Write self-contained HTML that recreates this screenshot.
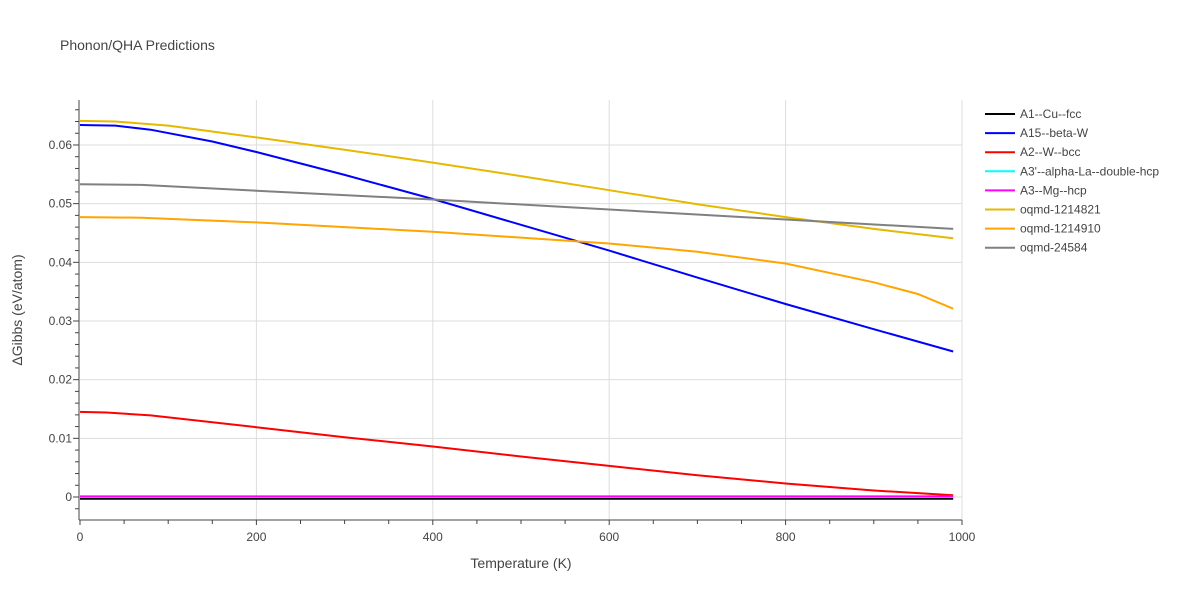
<!DOCTYPE html>
<html><head><meta charset="utf-8"><style>
body{margin:0;background:#fff;font-family:"Liberation Sans",sans-serif}
svg text{font-family:"Liberation Sans",sans-serif;fill:#444}
</style></head><body>
<svg id="chart" width="1200" height="600" xmlns="http://www.w3.org/2000/svg">
<text x="60" y="50" font-size="14" style="fill:#444">Phonon/QHA Predictions</text>
<g id="grid"></g><g id="axes"></g><g id="series"></g><g id="legend"></g>
<text x="521" y="568" font-size="14" text-anchor="middle">Temperature (K)</text>
<text transform="translate(22,310) rotate(-90)" font-size="14" text-anchor="middle">ΔGibbs (eV/atom)</text>
</svg>
<script>
const xTicks=[0,200,400,600,800,1000];
const yTicks=[0,0.01,0.02,0.03,0.04,0.05,0.06];
const yTickLabels=["0","0.01","0.02","0.03","0.04","0.05","0.06"];
const names=["A1--Cu--fcc","A15--beta-W","A2--W--bcc","A3'--alpha-La--double-hcp","A3--Mg--hcp","oqmd-1214821","oqmd-1214910","oqmd-24584"];
const colors=["#000000","#0000ff","#ff0000","#00ffff","#ff00ff","#e6b800","#ffa500","#808080"];
const tA1=[0,990], vA1=[-0.0003,-0.0003];
const tA15=[0,40,80,150,200,300,400,500,600,700,800,900,990];
const vA15=[0.0634,0.0633,0.0626,0.0606,0.0588,0.0549,0.0508,0.0464,0.0420,0.0374,0.0329,0.0286,0.0248];
const tA2=[0,30,80,200,300,400,500,600,700,800,900,990];
const vA2=[0.0145,0.0144,0.0139,0.0119,0.0102,0.0086,0.0069,0.0053,0.0037,0.0023,0.0011,0.0003];
const tA3p=[0,990], vA3p=[0,0];
const tA3=[0,990], vA3=[0.0001,0.0001];
const t821=[0,40,100,200,300,400,500,600,700,800,900,990];
const v821=[0.0641,0.0640,0.0633,0.0613,0.0592,0.0570,0.0547,0.0523,0.0499,0.0477,0.0457,0.0441];
const t910=[0,70,200,400,600,700,800,900,950,990];
const v910=[0.0477,0.0476,0.0468,0.0452,0.0432,0.0418,0.0398,0.0366,0.0346,0.0321];
const t584=[0,70,200,400,600,800,990];
const v584=[0.0533,0.0532,0.0522,0.0507,0.0490,0.0473,0.0457];
const seriesT=[tA1,tA15,tA2,tA3p,tA3,t821,t910,t584];
const seriesV=[vA1,vA15,vA2,vA3p,vA3,v821,v910,v584];
const NS="http://www.w3.org/2000/svg";
const X=t=>80+t*0.882, Y=v=>497-v*5867;
function mk(p,tag,a){const e=document.createElementNS(NS,tag);for(const k in a)e.setAttribute(k,a[k]);p.appendChild(e);return e;}
const grid=document.getElementById('grid'),axes=document.getElementById('axes'),ser=document.getElementById('series'),leg=document.getElementById('legend');
xTicks.forEach(t=>{if(t>0){const l=mk(grid,'line',{x1:X(t),x2:X(t),y1:100,y2:520,stroke:'#ddd'});

}
const tx=mk(axes,'text',{x:X(t),y:541,'font-size':12,'text-anchor':'middle'});tx.textContent=t;

});
for(let t=0;t<=1000;t+=50){mk(axes,'line',{x1:X(t),x2:X(t),y1:520,y2:t%200==0?525:524,stroke:'#444'});}
yTicks.forEach((v,i)=>{const l=mk(grid,'line',{x1:80,x2:962,y1:Y(v),y2:Y(v),stroke:'#ddd'});


const tx=mk(axes,'text',{x:72,y:Y(v)+4,'font-size':12,'text-anchor':'end'});tx.textContent=yTickLabels[i];

});
for(let k=-2;k<=34;k++){const v=k*0.002;const y=Y(v);if(y<100||y>520)continue;mk(axes,'line',{x1:79,x2:k%5==0?73:75,y1:y,y2:y,stroke:'#444'});}
mk(axes,'line',{x1:79,x2:79,y1:100,y2:520,stroke:'#444'});
mk(axes,'line',{x1:79,x2:962,y1:520,y2:520,stroke:'#444'});
seriesT.forEach((ts,i)=>{const d=ts.map((t,j)=>(j?'L':'M')+X(t).toFixed(1)+','+Y(seriesV[i][j]).toFixed(1)).join('');
const p=mk(ser,'path',{d:d,fill:'none',stroke:colors[i],'stroke-width':2});


const y=114+i*19.1;
const g=mk(leg,'g',{});


mk(g,'line',{x1:985,x2:1015,y1:y,y2:y,stroke:colors[i],'stroke-width':2});
const tx=mk(g,'text',{x:1020,y:y+4,'font-size':12});tx.textContent=names[i];});
</script>
</body></html>
